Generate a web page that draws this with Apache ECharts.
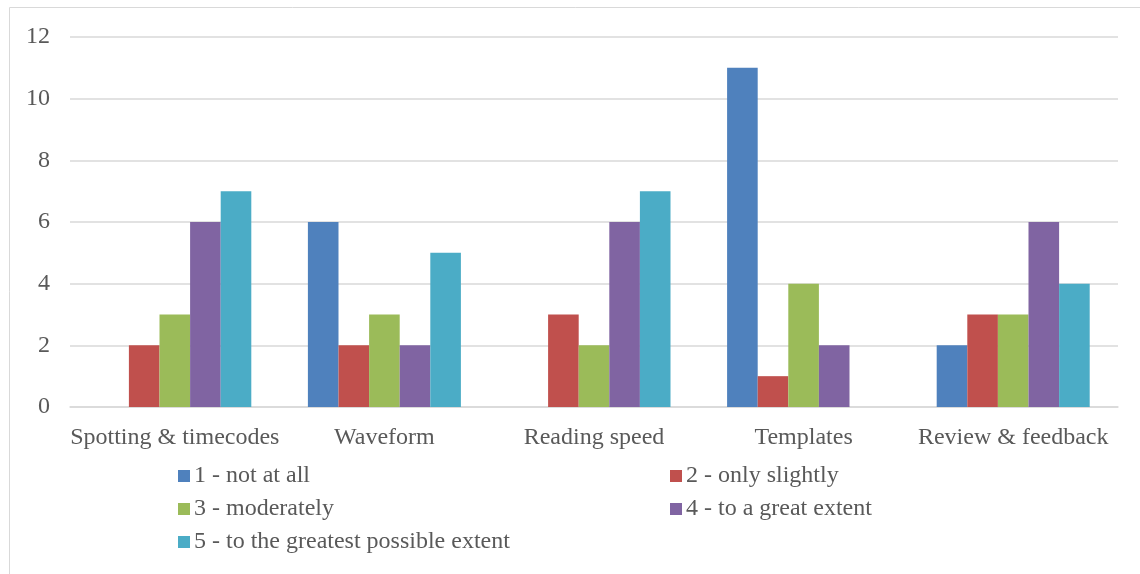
<!DOCTYPE html>
<html><head><meta charset="utf-8">
<script src="https://cdn.jsdelivr.net/npm/echarts@6/dist/echarts.min.js"></script>
<style>html,body{margin:0;padding:0;background:#fff}#c{width:1140px;height:574px}</style>
</head><body><div id="c"></div>
<script>
const categories = ['Spotting & timecodes', 'Waveform', 'Reading speed', 'Templates', 'Review & feedback'];
const seriesNames = ['1 - not at all', '2 - only slightly', '3 - moderately', '4 - to a great extent', '5 - to the greatest possible extent'];
const s1 = [0, 6, 0, 11, 2];
const s2 = [2, 2, 3, 1, 3];
const s3 = [3, 3, 2, 4, 3];
const s4 = [6, 2, 6, 2, 6];
const s5 = [7, 5, 7, 0, 4];
const colors = ['#4F81BD', '#C0504D', '#9BBB59', '#8064A2', '#4BACC6'];
const values = [s1, s2, s3, s4, s5];

const font = '"Liberation Serif", "Times New Roman", serif';
const chart = echarts.init(document.getElementById('c'));
const legendCommon = {
  orient: 'vertical', itemWidth: 12, itemHeight: 12, itemGap: 9, icon: 'rect',
  textStyle: { fontFamily: font, fontSize: 24, lineHeight: 24, color: '#595959', padding: [0, 0, 0, -1] },
  selectedMode: false
};
chart.setOption({
  animation: false,
  color: colors,
  textStyle: { fontFamily: font },
  graphic: [{ type: 'rect', shape: { x: 9.5, y: 7.5, width: 1200, height: 700 }, style: { fill: 'none', stroke: '#d9d9d9', lineWidth: 1 }, silent: true }],
  grid: { left: 70, right: 22, top: 37, bottom: 167, containLabel: false },
  legend: [
    Object.assign({ left: 173, top: 459, data: [seriesNames[0], seriesNames[2], seriesNames[4]] }, legendCommon),
    Object.assign({ left: 665, top: 459, data: [seriesNames[1], seriesNames[3]] }, legendCommon)
  ],
  xAxis: {
    type: 'category', data: categories,
    axisLine: { show: true, lineStyle: { color: '#d9d9d9', width: 1.5 } },
    axisTick: { show: false },
    axisLabel: { fontFamily: font, fontSize: 24, color: '#595959', margin: 19, interval: 0 }
  },
  yAxis: {
    type: 'value', min: 0, max: 12, interval: 2,
    axisLine: { show: false }, axisTick: { show: false },
    splitLine: { lineStyle: { color: '#d9d9d9', width: 1.5 } },
    axisLabel: { fontFamily: font, fontSize: 24, color: '#595959', margin: 20 }
  },
  series: values.map((v, i) => ({
    name: seriesNames[i], type: 'bar', data: v,
    barGap: '0%', barCategoryGap: '27%',
    itemStyle: { color: colors[i] }
  }))
});
</script></body></html>
